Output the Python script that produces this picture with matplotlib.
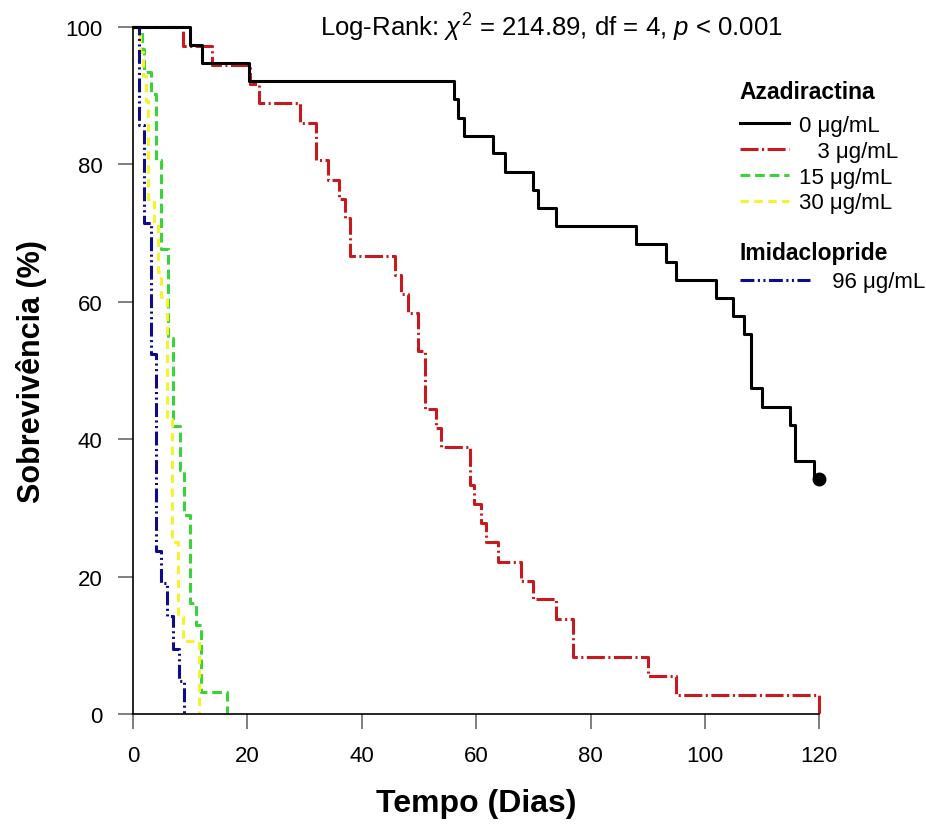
import matplotlib
matplotlib.use("Agg")
import matplotlib.pyplot as plt

plt.rcParams['font.family'] = ['Liberation Sans', 'DejaVu Sans']
plt.rcParams['mathtext.fontset'] = 'custom'
plt.rcParams['mathtext.rm'] = 'Liberation Sans'
plt.rcParams['mathtext.it'] = 'Liberation Sans:italic'
plt.rcParams['lines.scale_dashes'] = False

# ---- data (days, survival %) ----
black_t = [0, 10, 12, 20.3, 56.1, 56.8, 57.8, 62.9, 65, 69.9, 70.9, 74, 88, 93.2, 95,
           102, 104.9, 106.8, 108, 110, 114.9, 115.8, 119, 120]
black_s = [100, 97.4, 94.7, 92.1, 89.5, 86.8, 84.2, 81.6, 78.9, 76.3, 73.7, 71.1, 68.4,
           65.8, 63.2, 60.5, 57.9, 55.3, 47.4, 44.7, 42.1, 36.8, 34.2, 34.2]
black_cens_t = [120]
black_cens_s = [34.2]

red_t = [0, 8.8, 13.9, 20.4, 22.1, 29.2, 32, 34.1, 36, 37, 38, 45.8, 46.9, 48.1, 49.8,
         51, 53, 53.9, 59, 59.7, 60.9, 61.8, 63.8, 67.9, 69.9, 73.9, 76.9, 90, 95, 120]
red_s = [100, 97.2, 94.4, 91.7, 88.9, 86.1, 80.6, 77.8, 75.0, 72.2, 66.7, 63.9, 61.1,
         58.3, 52.8, 44.4, 41.7, 38.9, 33.3, 30.6, 27.8, 25.0, 22.2, 19.4, 16.7, 13.9,
         8.3, 5.6, 2.8, 0]

green_t = [0, 1.5, 2.0, 3.1, 4.1, 4.9, 6.1, 7.0, 8.2, 9.0, 9.9, 11.1, 11.9, 16.4]
green_s = [100, 96.8, 93.5, 90.3, 80.6, 67.7, 54.8, 41.9, 35.5, 29.0, 16.1, 12.9, 3.2, 0]

yellow_t = [0, 1.2, 1.7, 2.3, 2.7, 3.6, 4.3, 4.9, 5.9, 6.8, 7.9, 8.8, 11.6]
yellow_s = [100, 96.4, 92.9, 89.3, 75.0, 71.4, 64.3, 60.7, 42.9, 25.0, 14.3, 10.7, 0]

blue_t = [0, 1.1, 2.0, 3.1, 4.1, 4.9, 6.0, 7.0, 8.0, 8.9]
blue_s = [100, 85.7, 71.4, 52.4, 23.8, 19.0, 14.3, 9.5, 4.8, 0]

aza_labels = ['0 μg/mL', '   3 μg/mL', '15 μg/mL', '30 μg/mL']
imi_labels = ['  96 μg/mL']
xticks = [0, 20, 40, 60, 80, 100, 120]
yticks = [0, 20, 40, 60, 80, 100]

c_black = '#000000'
c_red = '#c81a1e'
c_green = '#3ad43a'
c_yellow = '#f4f42c'
c_blue = '#0c0c8c'

fig = plt.figure(figsize=(9.26, 8.29), dpi=100)
ax = fig.add_axes([0.1436, 0.1375, 0.7412, 0.8287])

lw = 2.2
lg, = ax.step(green_t, green_s, where='post', color=c_green, lw=lw, dashes=[7, 3.5], clip_on=False)
ly, = ax.step(yellow_t, yellow_s, where='post', color=c_yellow, lw=lw, dashes=[6, 4], clip_on=False)
lb, = ax.step(blue_t, blue_s, where='post', color=c_blue, lw=lw,
              dashes=[10, 2.5, 1.5, 2.5, 1.5, 2.5], clip_on=False)
lr, = ax.step(red_t, red_s, where='post', color=c_red, lw=lw, dashes=[13, 2.5, 1.5, 2.5], clip_on=False)
lk, = ax.step(black_t, black_s, where='post', color=c_black, lw=lw, clip_on=False)
ax.plot(black_cens_t, black_cens_s, 'o', color='black', ms=9, clip_on=False, zorder=5)

ax.set_xlim(0, 120)
ax.set_ylim(0, 100)
ax.set_xticks(xticks)
ax.set_yticks(yticks)
for s in ['top', 'right']:
    ax.spines[s].set_visible(False)
for s in ['left', 'bottom']:
    ax.spines[s].set_linewidth(1.2)
ax.tick_params(direction='out', length=11, width=1.2, color='#6a6a6a', labelsize=16)
ax.tick_params(axis='x', pad=11)
ax.tick_params(axis='y', pad=11)

ax.set_xlabel('Tempo (Dias)', fontsize=23, fontweight='bold', labelpad=16)
ax.set_ylabel('Sobrevivência (%)', fontsize=22, fontweight='bold', labelpad=13)

ax.text(0.609, 1.0, r'Log-Rank: $\chi^2$ = 214.89, df = 4, $p$ < 0.001',
        transform=ax.transAxes, ha='center', va='center', fontsize=18.5)

leg1 = ax.legend([lk, lr, lg, ly], aza_labels, title='Azadiractina', loc='upper left',
                 bbox_to_anchor=(0.884, 0.923), frameon=False, fontsize=16,
                 title_fontproperties={'weight': 'bold', 'size': 16.5}, alignment='left',
                 handlelength=2.2, handletextpad=0.45, labelspacing=0.22,
                 borderpad=0, borderaxespad=0)
leg1._legend_box.sep = 8.5
ax.add_artist(leg1)
leg2 = ax.legend([lb], imi_labels, title='Imidaclopride', loc='upper left',
                 bbox_to_anchor=(0.884, 0.688), frameon=False, fontsize=16,
                 title_fontproperties={'weight': 'bold', 'size': 16.5}, alignment='left',
                 handlelength=3.15, handletextpad=0.45, labelspacing=0.25,
                 borderpad=0, borderaxespad=0)
leg2._legend_box.sep = 5

fig.savefig('out.png', dpi=100)
